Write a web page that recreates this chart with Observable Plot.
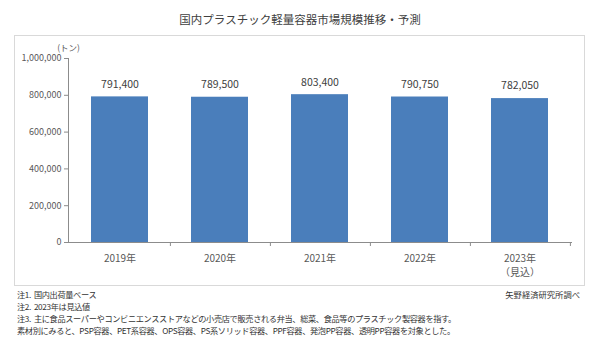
<!DOCTYPE html>
<html><head><meta charset="utf-8">
<script src="https://cdn.jsdelivr.net/npm/d3@7"></script>
<script src="https://cdn.jsdelivr.net/npm/@observablehq/plot@0.6"></script>
<style>
body{margin:0;background:#fff;font-family:"Noto Sans CJK JP",sans-serif;}
#wrap{position:relative;width:600px;height:362px;overflow:hidden;}
#title{position:absolute;left:0;width:600px;top:11px;text-align:center;font-size:11.5px;color:#404040;line-height:16px;}
#frame{position:absolute;left:14px;top:35px;width:571px;height:251px;border:1px solid #d9d9d9;box-sizing:border-box;}
#chart{position:absolute;left:0;top:35px;}
.note{position:absolute;left:17px;font-size:8.2px;color:#333;line-height:12px;white-space:pre;letter-spacing:-0.35px;}
#src{position:absolute;right:20px;top:288px;font-size:8.3px;color:#333;line-height:12px;white-space:nowrap;}
</style></head>
<body><div id="wrap">
<div id="title"></div>
<div id="frame"></div>
<div id="chart"></div>
<div id="notes"></div>
<div id="src"></div>
</div>
<script>
const title = "国内プラスチック軽量容器市場規模推移・予測";
const unitLabel = "(トン)";
const years = ["2019", "2020", "2021", "2022", "2023"];
const yearLabels = ["2019年", "2020年", "2021年", "2022年", "2023年\n（見込）"];
const values = [791400, 789500, 803400, 790750, 782050];
const yTicks = [0, 200000, 400000, 600000, 800000, 1000000];
const notes = [
  "注1.  国内出荷量ベース",
  "注2.  2023年は見込値",
  "注3.  主に食品スーパーやコンビニエンスストアなどの小売店で販売される弁当、総菜、食品等のプラスチック製容器を指す。",
  "素材別にみると、PSP容器、PET系容器、OPS容器、PS系ソリッド容器、PPF容器、発泡PP容器、透明PP容器を対象とした。"
];
const source = "矢野経済研究所調べ";

const data = years.map((y, i) => ({year: y, value: values[i]}));
const labelOf = new Map(years.map((y, i) => [y, yearLabels[i]]));

const W = 600, H = 250, mL = 68, mR = 28, mT = 23, mB = 43;
const halfStep = (W - mL - mR) / years.length / 2;
const axisColor = "#8c8c8c";

const plot = Plot.plot({
  width: W, height: H,
  marginLeft: mL, marginRight: mR, marginTop: mT, marginBottom: mB,
  style: {fontFamily: "'Noto Sans CJK JP', sans-serif", background: "transparent", color: "#595959"},
  x: {type: "band", domain: years, paddingInner: 0.425, paddingOuter: 0.2125},
  y: {domain: [0, 1000000]},
  marks: [
    Plot.barY(data, {x: "year", y: "value", fill: "#4a7ebb"}),
    Plot.text(data, {x: "year", y: "value", text: d => d3.format(",")(d.value), dy: -12.5, fontSize: 10.5, fill: "#404040"}),
    Plot.ruleY([0], {stroke: axisColor}),
    Plot.frame({anchor: "left", stroke: axisColor}),
    Plot.axisY({ticks: yTicks, tickSize: 4, tickPadding: 3, tickFormat: d3.format(","), fontSize: 9, fill: "#595959", stroke: axisColor, label: null}),
    Plot.axisX({tickSize: 0, tickPadding: 10, tickFormat: d => labelOf.get(d), fontSize: 10, lineHeight: 1.4, fill: "#595959", label: null}),
    Plot.axisX({tickSize: 4, tickFormat: () => "", dx: halfStep, stroke: axisColor, label: null}),
    Plot.text([unitLabel], {frameAnchor: "top-left", dy: -14, fontSize: 8.5, fill: "#595959", textAnchor: "middle"})
  ]
});
document.getElementById("chart").appendChild(plot);
document.getElementById("title").textContent = title;
document.getElementById("src").textContent = source;
const notesEl = document.getElementById("notes");
notes.forEach((t, i) => {
  const d = document.createElement("div");
  d.className = "note";
  d.style.top = (288 + i * 12) + "px";
  d.textContent = t;
  notesEl.appendChild(d);
});
</script>
</body></html>
